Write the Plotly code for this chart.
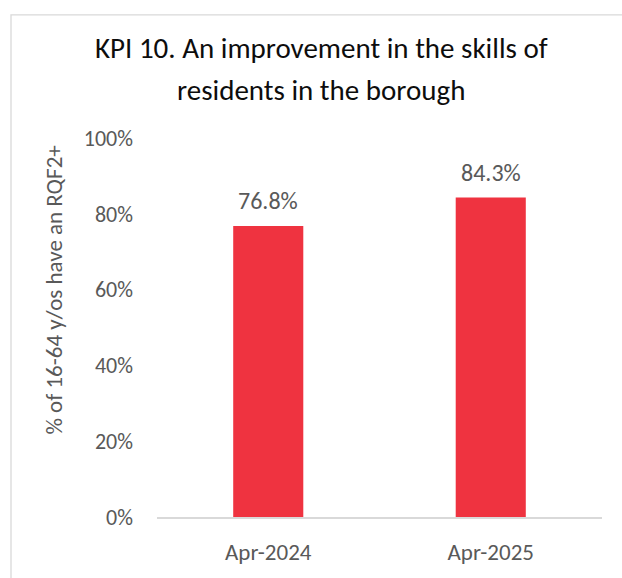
import plotly.graph_objects as go

# KPI 10 data: share of residents aged 16-64 with RQF2+ qualifications
periods = ["Apr-2024", "Apr-2025"]
rqf2_share = [76.8, 84.3]
value_labels = ["76.8%", "84.3%"]
y_ticks = [0, 20, 40, 60, 80, 100]
y_tick_labels = ["0%", "20%", "40%", "60%", "80%", "100%"]
title_lines = ["KPI 10. An improvement in the skills of", "residents in the borough"]

FONT = "Calibri, Carlito, Lato, sans-serif"
GREY = "#595959"
BAR = "#EF3340"

W, H = 622, 578
ML, MR, MT, MB = 157, 20, 138, 55
plot_w = W - ML - MR
plot_h = H - MT - MB


def px_x(px):
    return (px - ML) / plot_w


def px_y(py):
    return (H - MB - py) / plot_h


fig = go.Figure()
fig.add_trace(go.Bar(
    x=periods,
    y=rqf2_share,
    marker=dict(color=BAR, line=dict(width=0)),
    hoverinfo="skip",
))

# value labels sitting above each bar
for p, v, lab in zip(periods, rqf2_share, value_labels):
    fig.add_annotation(
        x=p, y=v, text=lab, showarrow=False,
        yanchor="bottom", yshift=9,
        font=dict(family=FONT, size=24, color=GREY),
    )

# chart title, two lines with wide spacing
for line, cy in zip(title_lines, [47, 89]):
    fig.add_annotation(
        xref="paper", yref="paper", x=px_x(321), y=px_y(cy),
        text=line, showarrow=False, xanchor="center", yanchor="middle",
        font=dict(family=FONT, size=29, color="#0D0D0D"),
    )

# vertical axis title
fig.add_annotation(
    xref="paper", yref="paper", x=px_x(54), y=px_y(293),
    text="% of 16-64 y/os have an RQF2+", textangle=-90,
    showarrow=False, xanchor="center", yanchor="middle",
    font=dict(family=FONT, size=23, color=GREY),
)

# outer chart-area border
fig.add_shape(
    type="rect", xref="paper", yref="paper",
    x0=px_x(11), x1=2.0, y0=-1.0, y1=px_y(13),
    line=dict(color="#D9D9D9", width=1.3),
    fillcolor="rgba(0,0,0,0)", layer="below",
)

fig.update_layout(
    width=W, height=H,
    margin=dict(l=ML, r=MR, t=MT, b=MB),
    paper_bgcolor="white", plot_bgcolor="white",
    showlegend=False,
    bargap=0.685,
    xaxis=dict(
        showgrid=False, zeroline=False,
        showline=True, linecolor="#D9D9D9", linewidth=1.5,
        ticks="", ticklabelstandoff=14,
        tickfont=dict(family=FONT, size=23, color=GREY),
    ),
    yaxis=dict(
        range=[0, 100], tickmode="array",
        tickvals=y_ticks, ticktext=y_tick_labels,
        showgrid=False, zeroline=False, showline=False,
        ticks="", ticklabelstandoff=23,
        tickfont=dict(family=FONT, size=22, color=GREY),
    ),
)

fig.write_html("out.html")
